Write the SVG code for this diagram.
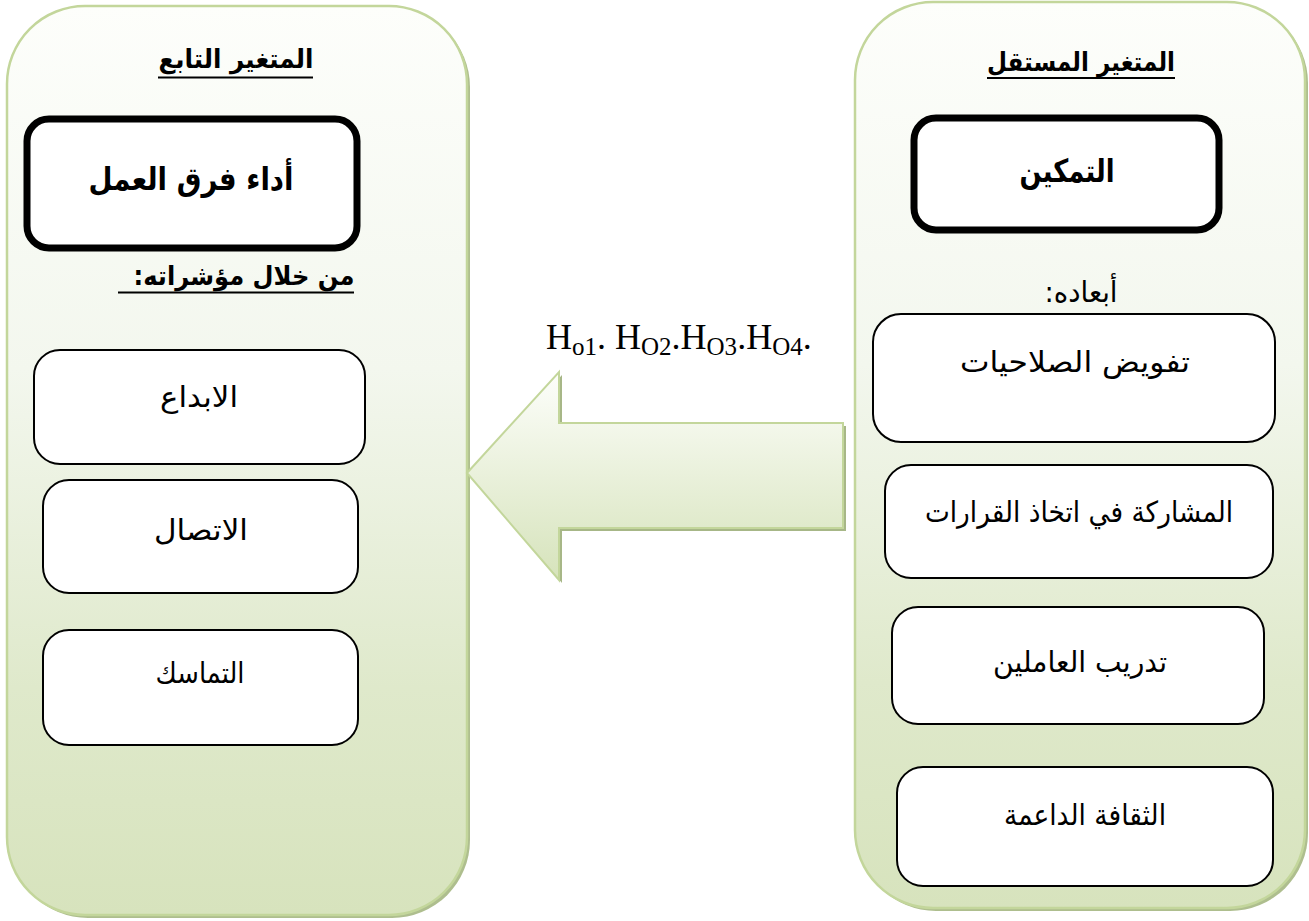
<svg xmlns="http://www.w3.org/2000/svg" width="1309" height="921" viewBox="0 0 1309 921">
<defs>
<linearGradient id="pg" x1="0" y1="0" x2="0" y2="1">
<stop offset="0" stop-color="#fdfefb"/>
<stop offset="0.4" stop-color="#f3f7ee"/>
<stop offset="0.75" stop-color="#dfe9cb"/>
<stop offset="1" stop-color="#d7e3bd"/>
</linearGradient>
<linearGradient id="ag" x1="0" y1="0" x2="0" y2="1">
<stop offset="0" stop-color="#fdfefb"/>
<stop offset="1" stop-color="#d6e3bb"/>
</linearGradient>
<style>
.shadow{fill:#aebe8e;}
.panel{fill:url(#pg);stroke:#c3d69b;stroke-width:2.5;}
.big{fill:#fff;stroke:#000;stroke-width:7;}
.box{fill:#fff;stroke:#000;stroke-width:2;}
.ar{font-family:"DejaVu Sans","Noto Sans",sans-serif;fill:#000;text-anchor:middle;direction:rtl;unicode-bidi:embed;}
.t{font-size:26px;font-weight:bold;}
.bt{font-size:32px;font-weight:bold;}
.n{font-size:29px;}
.ul{stroke:#000;stroke-width:2.2;}
.h{font-family:"Liberation Serif","Times New Roman",serif;font-size:36px;fill:#000;}
.s{font-size:25px;}
</style>
</defs>

<g id="panel-dependent">
<rect class="shadow" x="10" y="9" width="460" height="909" rx="78"/>
<rect class="panel" x="7" y="6" width="460" height="909" rx="78"/>
<text class="ar t" x="236" y="68" textLength="155" lengthAdjust="spacingAndGlyphs">المتغير التابع</text>
<line class="ul" x1="158" y1="77.5" x2="313" y2="77.5"/>
</g>

<g id="node-team-performance">
<rect class="big" x="27" y="119" width="330" height="129" rx="22"/>
<text class="ar bt" x="191" y="190" textLength="205" lengthAdjust="spacingAndGlyphs">أداء فرق العمل</text>
</g>

<g id="label-indicators">
<text class="ar t" x="244" y="285" textLength="221" lengthAdjust="spacingAndGlyphs">من خلال مؤشراته:</text>
<line class="ul" x1="118" y1="292.5" x2="354" y2="292.5"/>
</g>

<g id="node-creativity">
<rect class="box" x="34" y="350" width="331" height="114" rx="26"/>
<text class="ar n" x="199" y="407" textLength="78" lengthAdjust="spacingAndGlyphs">الابداع</text>
</g>

<g id="node-communication">
<rect class="box" x="43" y="480" width="315" height="113" rx="26"/>
<text class="ar n" x="201" y="540" textLength="94" lengthAdjust="spacingAndGlyphs">الاتصال</text>
</g>

<g id="node-cohesion">
<rect class="box" x="43" y="630" width="315" height="115" rx="26"/>
<text class="ar n" x="200" y="683" textLength="89" lengthAdjust="spacingAndGlyphs">التماسك</text>
</g>

<g id="panel-independent">
<rect class="shadow" x="858" y="5" width="450" height="906" rx="78"/>
<rect class="panel" x="855" y="2" width="450" height="906" rx="78"/>
<text class="ar t" x="1081" y="71" textLength="188" lengthAdjust="spacingAndGlyphs">المتغير المستقل</text>
<line class="ul" x1="987" y1="78" x2="1175" y2="78"/>
</g>

<g id="node-empowerment">
<rect class="big" x="914" y="118" width="305" height="112" rx="22"/>
<text class="ar bt" x="1067" y="182" textLength="95" lengthAdjust="spacingAndGlyphs">التمكين</text>
</g>

<g id="label-dimensions">
<text class="ar n" x="1081" y="302" textLength="73" lengthAdjust="spacingAndGlyphs">أبعاده:</text>
</g>

<g id="node-delegation">
<rect class="box" x="873" y="314" width="402" height="128" rx="28"/>
<text class="ar n" x="1075" y="372" textLength="230" lengthAdjust="spacingAndGlyphs">تفويض الصلاحيات</text>
</g>

<g id="node-participation">
<rect class="box" x="885" y="465" width="388" height="113" rx="26"/>
<text class="ar n" x="1079" y="522" textLength="308" lengthAdjust="spacingAndGlyphs">المشاركة في اتخاذ القرارات</text>
</g>

<g id="node-training">
<rect class="box" x="892" y="607" width="372" height="117" rx="26"/>
<text class="ar n" x="1080" y="672" textLength="174" lengthAdjust="spacingAndGlyphs">تدريب العاملين</text>
</g>

<g id="node-culture">
<rect class="box" x="897" y="767" width="376" height="119" rx="26"/>
<text class="ar n" x="1085" y="825" textLength="162" lengthAdjust="spacingAndGlyphs">الثقافة الداعمة</text>
</g>

<g id="connectors">
<polygon points="470,476 562,375 562,426 846,426 846,531 562,531 562,583" fill="#a7b787"/>
<polygon points="467,473 559,372 559,423 843,423 843,528 559,528 559,580" fill="url(#ag)" stroke="#c3d69b" stroke-width="2"/>
<text class="h" x="546" y="349">H<tspan class="s" dy="6">o1</tspan><tspan dy="-6">. H</tspan><tspan class="s" dy="6">O2</tspan><tspan dy="-6">.H</tspan><tspan class="s" dy="6">O3</tspan><tspan dy="-6">.H</tspan><tspan class="s" dy="6">O4</tspan><tspan dy="-6">.</tspan></text>
</g>
</svg>
